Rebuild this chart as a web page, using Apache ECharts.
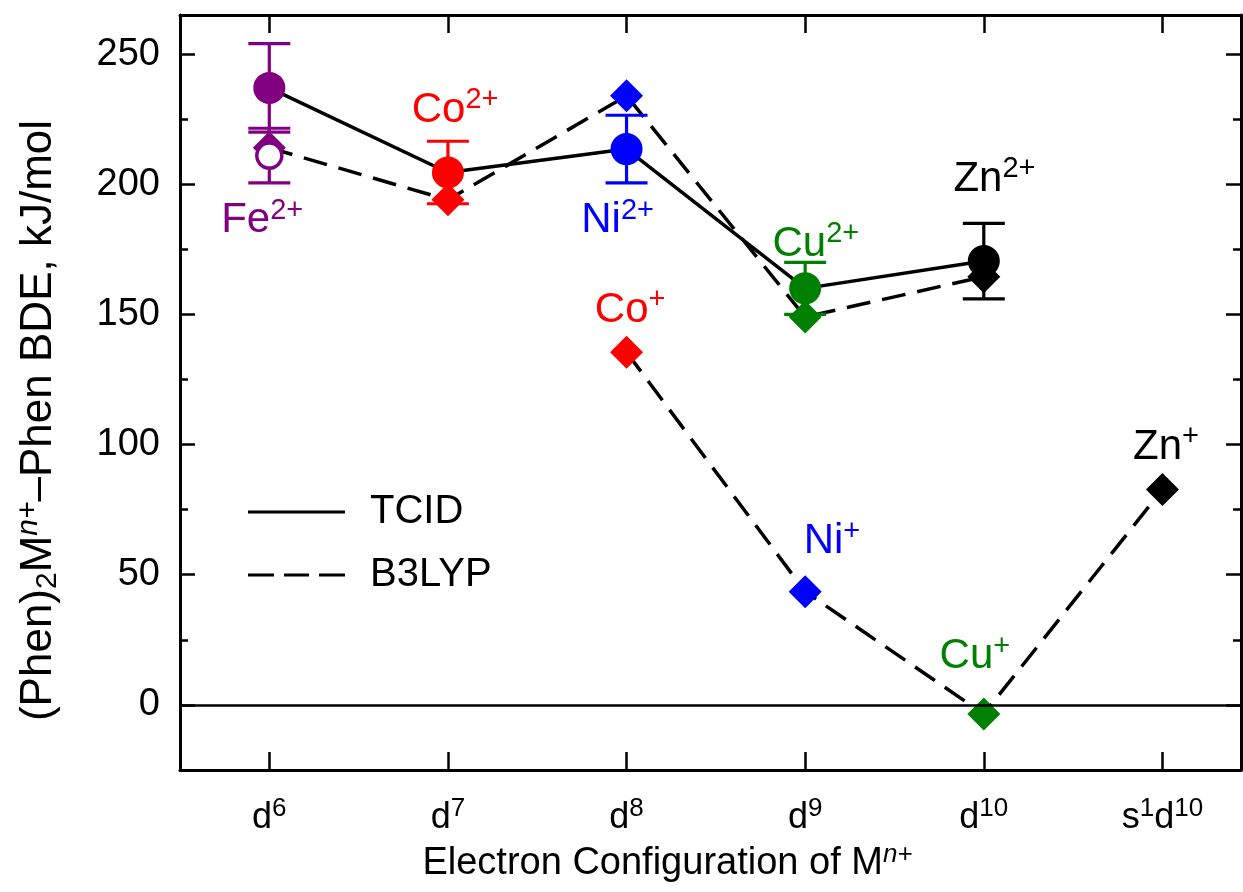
<!DOCTYPE html>
<html>
<head>
<meta charset="utf-8">
<script src="https://cdn.jsdelivr.net/npm/echarts@6/dist/echarts.min.js"></script>
<style>
  html, body { margin: 0; padding: 0; background: #fff; }
  #chart { width: 1243px; height: 892px; }
</style>
</head>
<body>
<div id="chart"></div>
<script>
// x positions: d6 .. s1d10
var configPositions = [0, 1, 2, 3, 4, 5];
var configLabels = ['{b|d}{sup|6}', '{b|d}{sup|7}', '{b|d}{sup|8}', '{b|d}{sup|9}', '{b|d}{sup|10}', '{b|s}{sup|1}{b|d}{sup|10}'];
var yTickValues = [0, 50, 100, 150, 200, 250];
var yMinorValues = [-25, 25, 75, 125, 175, 225];

var ionColors = ['#800080', '#ff0000', '#0000ff', '#008000', '#000000'];

// dications M2+ (Fe, Co, Ni, Cu, Zn) at d6..d10
var dicationX = [0, 1, 2, 3, 4];
var tcidValues = [237, 204.5, 213.5, 160, 170.5];
var tcidErrors = [17, 12, 13, 10, 14.5];
var b3lypDication = [214, 194, 234, 149, 164.5];

// open circle for Fe2+
var feOpenValue = 211;
var feOpenError = 10.5;

// monocations M+ (Co, Ni, Cu, Zn) at d8..s1d10
var cationX = [2, 3, 4, 5];
var cationColors = ['#ff0000', '#0000ff', '#008000', '#000000'];
var b3lypCation = [135.5, 43.5, -3.5, 82.7];

// ion labels: name, charge, anchor (x, y in data units), colour
var ionLabels = [
  ['Fe', '2+', -0.04, 186, '#800080'],
  ['Co', '2+', 1.04, 228.5, '#ff0000'],
  ['Ni', '2+', 1.95, 186, '#0000ff'],
  ['Cu', '2+', 3.06, 177, '#008000'],
  ['Zn', '2+', 4.06, 202, '#000000'],
  ['Co', '+', 2.02, 151.5, '#ff0000'],
  ['Ni', '+', 3.15, 62.7, '#0000ff'],
  ['Cu', '+', 3.95, 18.5, '#008000'],
  ['Zn', '+', 5.02, 99, '#000000']
];

var FONT = "'Liberation Sans', Arial, sans-serif";

var errData = dicationX.map(function (x, i) {
  return [x, tcidValues[i] - tcidErrors[i], tcidValues[i] + tcidErrors[i], i];
});
errData.push([0, feOpenValue - feOpenError, feOpenValue + feOpenError, 0]);

function renderError(params, api) {
  var x = api.value(0);
  var lo = api.coord([x, api.value(1)]);
  var hi = api.coord([x, api.value(2)]);
  var color = ionColors[api.value(3)];
  var half = 21;
  var style = { stroke: color, lineWidth: 3.2 };
  return {
    type: 'group',
    children: [
      { type: 'line', shape: { x1: lo[0], y1: lo[1], x2: hi[0], y2: hi[1] }, style: style },
      { type: 'line', shape: { x1: hi[0] - half, y1: hi[1], x2: hi[0] + half, y2: hi[1] }, style: style },
      { type: 'line', shape: { x1: lo[0] - half, y1: lo[1], x2: lo[0] + half, y2: lo[1] }, style: style }
    ]
  };
}

var tickRich = {
  b: { fontSize: 36, fontFamily: FONT, color: '#000' },
  sup: { fontSize: 26, fontFamily: FONT, color: '#000', padding: [0, 0, 18, 0] }
};

var axisLineStyle = { color: '#000', width: 3 };

var myChart = echarts.init(document.getElementById('chart'));

var option = {
  animation: false,
  backgroundColor: '#fff',
  grid: { left: 180, right: 2, top: 15, bottom: 122 },
  legend: {
    orient: 'vertical',
    left: 243,
    top: 485,
    itemWidth: 97,
    itemHeight: 3,
    itemGap: 19,
    data: [
      { name: 'TCID', icon: 'path://M0,0h97v3h-97z' },
      { name: 'B3LYP', icon: 'path://M0,0h26v3h-26zM36,0h25v3h-25zM71,0h26v3h-26z' }
    ],
    textStyle: { fontSize: 40, lineHeight: 44, fontFamily: FONT, color: '#000', padding: [0, 0, 0, 20] },
    selectedMode: false
  },
  xAxis: [
    {
      type: 'value', min: -0.5, max: 5.44, position: 'bottom',
      axisLine: { onZero: false, lineStyle: axisLineStyle },
      axisTick: { inside: true, length: 18, customValues: configPositions, lineStyle: { color: '#000', width: 2.5 } },
      axisLabel: {
        customValues: configPositions, margin: 26,
        formatter: function (v) { return configLabels[Math.round(v)]; },
        rich: tickRich
      },
      splitLine: { show: false },
      name: '{b|Electron Configuration of M}{it|n+}',
      nameLocation: 'middle', nameGap: 72,
      nameTextStyle: {
        padding: [0, 86, 0, 0],
        rich: {
          b: { fontSize: 38, fontFamily: FONT, color: '#000' },
          it: { fontSize: 26, fontFamily: FONT, fontStyle: 'italic', color: '#000', padding: [0, 0, 18, 0] }
        }
      }
    },
    {
      type: 'value', min: -0.5, max: 5.44, position: 'top',
      axisLine: { onZero: false, lineStyle: axisLineStyle },
      axisTick: { inside: true, length: 18, customValues: configPositions, lineStyle: { color: '#000', width: 2.5 } },
      axisLabel: { show: false },
      splitLine: { show: false }
    }
  ],
  yAxis: [
    {
      type: 'value', min: -25, max: 265, position: 'left',
      axisLine: { show: true, onZero: false, lineStyle: axisLineStyle },
      axisTick: { inside: true, length: 15, customValues: yTickValues, lineStyle: { color: '#000', width: 2.5 } },
      axisLabel: { customValues: yTickValues, margin: 20, fontSize: 38, fontFamily: FONT, color: '#000' },
      splitLine: { show: false },
      name: '{b|(Phen)}{sub|2}{b|M}{it|n+}{b|–Phen BDE, kJ/mol}',
      nameLocation: 'middle', nameGap: 116, nameRotate: 90,
      nameTextStyle: {
        padding: [0, 56, 0, 0],
        rich: {
          b: { fontSize: 44, fontFamily: FONT, color: '#000' },
          sub: { fontSize: 30, fontFamily: FONT, color: '#000', padding: [18, 0, 0, 0] },
          it: { fontSize: 30, fontFamily: FONT, fontStyle: 'italic', color: '#000', padding: [0, 0, 20, 0] }
        }
      }
    },
    {
      type: 'value', min: -25, max: 265, position: 'left',
      axisLine: { show: false, onZero: false },
      axisTick: { inside: true, length: 8, customValues: yMinorValues, lineStyle: { color: '#000', width: 2.5 } },
      axisLabel: { show: false },
      splitLine: { show: false }
    },
    {
      type: 'value', min: -25, max: 265, position: 'right',
      axisLine: { show: true, onZero: false, lineStyle: axisLineStyle },
      axisTick: { inside: true, length: 15, customValues: yTickValues, lineStyle: { color: '#000', width: 2.5 } },
      axisLabel: { show: false },
      splitLine: { show: false }
    },
    {
      type: 'value', min: -25, max: 265, position: 'right',
      axisLine: { show: false, onZero: false },
      axisTick: { inside: true, length: 8, customValues: yMinorValues, lineStyle: { color: '#000', width: 2.5 } },
      axisLabel: { show: false },
      splitLine: { show: false }
    }
  ],
  series: [
    // legend-only series
    { name: 'TCID', type: 'line', data: [], symbol: 'none', lineStyle: { color: '#000', width: 3 }, itemStyle: { color: '#000' } },
    { name: 'B3LYP', type: 'line', data: [], symbol: 'none', lineStyle: { color: '#000', width: 3, type: [22, 11] }, itemStyle: { color: '#000' } },
    {
      name: 'zero', type: 'line', data: [], silent: true,
      markLine: {
        symbol: 'none', silent: true, label: { show: false },
        lineStyle: { color: '#000', width: 2.5, type: 'solid' },
        data: [{ yAxis: 0 }]
      }
    },
    {
      name: 'B3LYP M2+', type: 'line', z: 3,
      data: dicationX.map(function (x, i) {
        return { value: [x, b3lypDication[i]], itemStyle: { color: ionColors[i] } };
      }),
      symbol: 'diamond', symbolSize: [33, 33],
      lineStyle: { color: '#000', width: 3.5, type: [24, 12] }
    },
    {
      name: 'B3LYP M+', type: 'line', z: 3,
      data: cationX.map(function (x, i) {
        return { value: [x, b3lypCation[i]], itemStyle: { color: cationColors[i] } };
      }),
      symbol: 'diamond', symbolSize: [33, 33],
      lineStyle: { color: '#000', width: 3.5, type: [24, 12] }
    },
    {
      name: 'errors', type: 'custom', z: 4,
      renderItem: renderError,
      encode: { x: 0, y: [1, 2] },
      data: errData
    },
    {
      name: 'TCID M2+', type: 'line', z: 5,
      data: dicationX.map(function (x, i) {
        return { value: [x, tcidValues[i]], itemStyle: { color: ionColors[i] } };
      }),
      symbol: 'circle', symbolSize: 32,
      lineStyle: { color: '#000', width: 3.5 }
    },
    {
      name: 'Fe open', type: 'scatter', z: 6,
      data: [[0, feOpenValue]],
      symbol: 'circle', symbolSize: 25,
      itemStyle: { color: '#fff', borderColor: '#800080', borderWidth: 3.5, opacity: 1 }
    },
    {
      name: 'ion labels', type: 'scatter', z: 7, silent: true,
      symbolSize: 0,
      itemStyle: { opacity: 1 },
      data: ionLabels.map(function (l) {
        return {
          value: [l[2], l[3]], name: l[0], charge: l[1],
          label: {
            show: true, position: 'inside', opacity: 1,
            textBorderWidth: 0,
            formatter: '{m|' + l[0] + '}{s|' + l[1] + '}',
            rich: {
              m: { fontSize: 42, fontFamily: FONT, color: l[4], textBorderWidth: 0 },
              s: { fontSize: 29, fontFamily: FONT, color: l[4], textBorderWidth: 0, padding: [0, 0, 20, 0] }
            }
          }
        };
      })
    }
  ]
};

myChart.setOption(option);
</script>
</body>
</html>
